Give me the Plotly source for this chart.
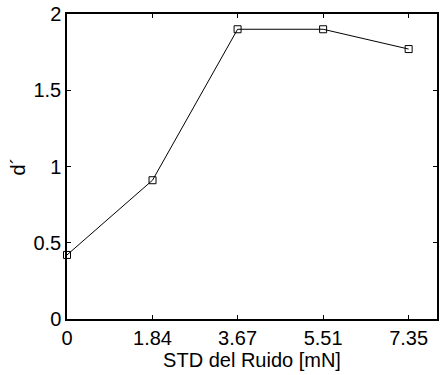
import plotly.graph_objects as go

x_vals = [0, 1.84, 3.67, 5.51, 7.35]
d_prime = [0.42, 0.91, 1.90, 1.90, 1.77]
x_ticks = [0, 1.84, 3.67, 5.51, 7.35]
x_tick_text = ["0", "1.84", "3.67", "5.51", "7.35"]
y_ticks = [0, 0.5, 1, 1.5, 2]
y_tick_text = ["0", "0.5", "1", "1.5", "2"]

fig = go.Figure()
fig.add_trace(go.Scatter(
    x=x_vals, y=d_prime, mode="lines+markers",
    line=dict(color="black", width=1),
    marker=dict(symbol="square-open", size=7, color="black", line=dict(width=1)),
    cliponaxis=False, showlegend=False,
))

font = dict(family="Liberation Sans, Arial, sans-serif", size=20, color="black")
fig.update_layout(
    width=440, height=375,
    margin=dict(l=67, r=1, t=14, b=56),
    paper_bgcolor="white", plot_bgcolor="white",
    font=font,
    xaxis=dict(range=[0, 7.96], tickvals=x_ticks, ticktext=x_tick_text,
               ticks="inside", ticklen=4, tickcolor="black", showgrid=False,
               zeroline=False, showline=True, linecolor="black", linewidth=1.5,
               mirror="ticks",
               title=dict(text="STD del Ruido [mN]", standoff=0, font=font)),
    yaxis=dict(range=[0, 2], tickvals=y_ticks, ticktext=y_tick_text,
               ticks="inside", ticklen=4, tickcolor="black", showgrid=False,
               zeroline=False, showline=True, linecolor="black", linewidth=1.5,
               mirror="ticks",
               title=dict(text="d´", standoff=2, font=font)),
)
fig.write_html("out.html")
